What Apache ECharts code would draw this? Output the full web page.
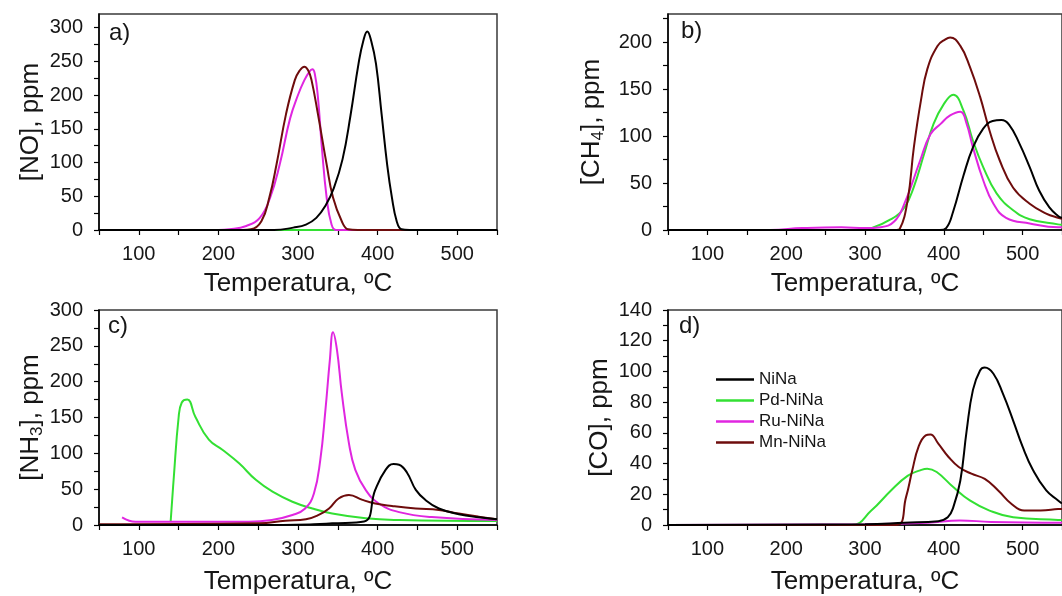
<!DOCTYPE html>
<html>
<head>
<meta charset="utf-8">
<script src="https://cdn.jsdelivr.net/npm/echarts@6/dist/echarts.min.js"></script>
<style>
  html, body { margin: 0; padding: 0; background: #fff; }
  #chart { width: 1062px; height: 596px; }
</style>
</head>
<body>
<div id="chart"></div>
<script>
// ---- tick values ----
const xTicks = [50, 100, 150, 200, 250, 300, 350, 400, 450, 500, 550];
const xLabels = [100, 200, 300, 400, 500];
const yTicksA = [0, 25, 50, 75, 100, 125, 150, 175, 200, 225, 250, 275, 300];
const yLabelsA = [0, 50, 100, 150, 200, 250, 300];
const yTicksB = [0, 25, 50, 75, 100, 125, 150, 175, 200, 225];
const yLabelsB = [0, 50, 100, 150, 200];
const yTicksC = [0, 25, 50, 75, 100, 125, 150, 175, 200, 225, 250, 275, 300];
const yLabelsC = [0, 50, 100, 150, 200, 250, 300];
const yTicksD = [0, 10, 20, 30, 40, 50, 60, 70, 80, 90, 100, 110, 120, 130, 140];
const yLabelsD = [0, 20, 40, 60, 80, 100, 120, 140];

const seriesNames = ['NiNa', 'Pd-NiNa', 'Ru-NiNa', 'Mn-NiNa'];

// ---- a) NO ----
const noNiNa = [[50,0],[270,0],[294,3.5],[310,8],[323,18],[335,37],[345,62],[356,105],[366,170],[376,246],[382,280],[387,294],[392,280],[398,246],[405,172],[412,97],[418,48],[424,13],[430,1],[440,0],[550,0]];
const noPd = [[50,0],[550,0]];
const noRu = [[50,0],[200,0],[214,1],[235,6],[252,18],[265,48],[277,97],[290,165],[300,200],[308,222],[314,234],[318,238],[321,232],[325,197],[330,122],[336,48],[342,9],[348,0],[550,0]];
const noMn = [[50,0],[230,0],[241,1],[254,13],[264,48],[273,97],[285,172],[296,222],[302,236],[308,242],[313,236],[317,222],[325,172],[336,97],[344,48],[355,13],[363,1],[375,0],[550,0]];

// ---- b) CH4 ----
const chNiNa = [[50,0],[395,0],[403,2],[412,20],[425,58],[437,88],[450,108],[462,116],[473,117],[483,112],[496,92],[509,67],[521,42],[534,24],[545,15],[550,13]];
const chPd = [[50,0],[290,0],[308,2],[333,11.5],[350,24],[362,46],[375,81],[387,113],[400,134],[412,144],[425,127],[437,95],[450,67],[467,39],[488,21],[509,11.5],[545,6],[550,5.5]];
const chRu = [[50,0],[180,0],[220,2],[270,3],[300,2],[320,3],[337,9],[350,28],[370,74],[383,102],[396,113],[408,122],[421,126],[429,113],[437,88],[450,53],[463,28],[479,13],[509,7],[545,3],[550,3]];
const chMn = [[50,0],[340,0],[344,1],[354,31],[362,88],[371,138],[379,171],[392,196],[402,203],[408,205],[421,196],[433,174],[446,142],[458,106],[471,74],[488,45],[509,28],[530,17.5],[545,13],[550,12]];

// ---- c) NH3 ----
const nhNiNa = [[50,0],[250,0],[320,1],[343,2.3],[383,5],[397,49],[410,77],[420,85],[427,84],[437,73],[448,49],[460,35],[477,23],[502,15],[527,10.7],[550,8]];
const nhPd = [[140,4.6],[144,67],[150,150],[154,171],[161,175],[171,151],[188,119],[205,105],[226,86],[247,63],[268,46.5],[293,32.5],[318,23],[343,16],[385,9.3],[427,7],[550,5.6]];
const nhRu = [[79,10.7],[88,6],[96,4.6],[238,4.6],[267,7],[293,14],[309,23],[320,44],[328,91],[334.5,161],[340,230],[344,269],[349,244],[355,184],[364,114],[372,77],[385,49],[401.5,30],[427,18],[468,11],[550,7]];
const nhMn = [[50,1],[251,2.3],[284,6],[310,8],[326,14],[339,23],[351,37],[364,42],[381,35],[397,30],[418,26.6],[448,23],[477,21],[502,16],[527,11.6],[550,8]];

// ---- d) CO ----
const coNiNa = [[50,0],[300,0.5],[350,1.5],[393,2.5],[405,5],[412,11.5],[421,29],[429,61.5],[437,88],[446,100.6],[452,102.5],[463,98.5],[475,85.5],[488,68],[500,51],[513,36],[530,22.5],[545,16],[550,14]];
const coPd = [[50,0],[283,0],[308,9.4],[333,22.5],[354,32],[370,35.6],[379,36.7],[391,34.5],[412,24.7],[433,16],[458,9.4],[488,5],[545,3.3],[550,3.2]];
const coRu = [[50,0],[300,0.5],[380,1.5],[420,3],[460,2],[550,1.5]];
const coMn = [[50,0],[340,0],[352,18],[360,35.6],[368,51],[377,58.4],[383,59],[393,53],[406,44.3],[419,37.8],[435,33.4],[452,30],[469,22.5],[486,13.7],[502,9.4],[523,9.4],[545,10.4],[550,10.5]];

const panelData = [
  [noNiNa, noPd, noRu, noMn],
  [chNiNa, chPd, chRu, chMn],
  [nhNiNa, nhPd, nhRu, nhMn],
  [coNiNa, coPd, coRu, coMn]
];

const colors = { 'NiNa': '#000000', 'Pd-NiNa': '#33e033', 'Ru-NiNa': '#e026e0', 'Mn-NiNa': '#6e0c0c' };
const textColor = '#161616';
const fontFamily = 'Liberation Sans, Arial, sans-serif';

const grids = [
  { left: 99, top: 14, width: 398, height: 216 },
  { left: 668, top: 14, width: 398, height: 216 },
  { left: 99, top: 310, width: 398, height: 215 },
  { left: 668, top: 310, width: 398, height: 215 }
].map(g => Object.assign(g, { show: true, borderColor: '#3a3a3a', borderWidth: 1.5, containLabel: false }));

const xNameGaps = [41, 41, 44, 44];
const xAxes = grids.map((g, i) => ({
  type: 'value', gridIndex: i, min: 50, max: 550,
  name: 'Temperatura, ºC', nameLocation: 'middle', nameGap: xNameGaps[i],
  nameTextStyle: { fontSize: 26, color: textColor, fontFamily: fontFamily },
  axisLine: { show: true, onZero: false, lineStyle: { color: '#000', width: 1.5 } },
  axisTick: { show: true, inside: false, length: 5, customValues: xTicks, lineStyle: { color: '#000', width: 1.2 } },
  axisLabel: { show: true, margin: 14, customValues: xLabels, fontSize: 20, color: textColor, fontFamily: fontFamily },
  splitLine: { show: false }
}));

const yCfg = [
  { max: 320, ticks: yTicksA, labels: yLabelsA, name: '[NO], ppm', gap: 50 },
  { max: 230, ticks: yTicksB, labels: yLabelsB, name: '[CH{s|4}], ppm', gap: 61 },
  { max: 300, ticks: yTicksC, labels: yLabelsC, name: '[NH{s|3}], ppm', gap: 50 },
  { max: 140, ticks: yTicksD, labels: yLabelsD, name: '[CO], ppm', gap: 53 }
];
const yAxes = yCfg.map((c, i) => ({
  type: 'value', gridIndex: i, min: 0, max: c.max,
  name: c.name, nameLocation: 'middle', nameGap: c.gap, nameRotate: 90,
  nameTextStyle: { fontSize: 26, color: textColor, fontFamily: fontFamily, lineHeight: 30,
    rich: { s: { fontSize: 17, lineHeight: 12, verticalAlign: 'bottom', color: textColor, fontFamily: fontFamily } } },
  axisLine: { show: true, onZero: false, lineStyle: { color: '#000', width: 1.5 } },
  axisTick: { show: true, inside: false, length: 5, customValues: c.ticks, lineStyle: { color: '#000', width: 1.2 } },
  axisLabel: { show: true, margin: 16, customValues: c.labels, fontSize: 20, color: textColor, fontFamily: fontFamily },
  splitLine: { show: false }
}));

const drawOrder = [1, 2, 3, 0]; // green, magenta, brown, black on top
const series = [];
panelData.forEach((arrs, p) => {
  drawOrder.forEach(k => {
    const name = seriesNames[k];
    series.push({
      type: 'line', name: name, xAxisIndex: p, yAxisIndex: p,
      data: arrs[k], smooth: 0.45, symbol: 'none', showSymbol: false,
      clip: true, z: 2 + drawOrder.indexOf(k),
      lineStyle: { color: colors[name], width: 2 },
      itemStyle: { color: colors[name] },
      emphasis: { disabled: true }
    });
  });
});

const panelLabels = ['a)', 'b)', 'c)', 'd)'];
const labelPos = [[109, 21], [681, 19], [108, 314], [679, 314]];
const titles = panelLabels.map((t, i) => ({
  text: t, left: labelPos[i][0], top: labelPos[i][1], padding: 0,
  textStyle: { fontSize: 24, fontWeight: 'normal', color: textColor, fontFamily: fontFamily }
}));

const chart = echarts.init(document.getElementById('chart'), null, { renderer: 'canvas' });
chart.setOption({
  animation: false,
  backgroundColor: '#ffffff',
  title: titles,
  legend: {
    data: seriesNames, orient: 'vertical', left: 716, top: 371, padding: 0,
    icon: 'rect', itemWidth: 38, itemHeight: 2.5, itemGap: 4,
    textStyle: { fontSize: 17, lineHeight: 17, color: textColor, fontFamily: fontFamily, padding: [0,0,0,0] },
    selectedMode: false
  },
  grid: grids,
  xAxis: xAxes,
  yAxis: yAxes,
  series: series
});
</script>
</body>
</html>
